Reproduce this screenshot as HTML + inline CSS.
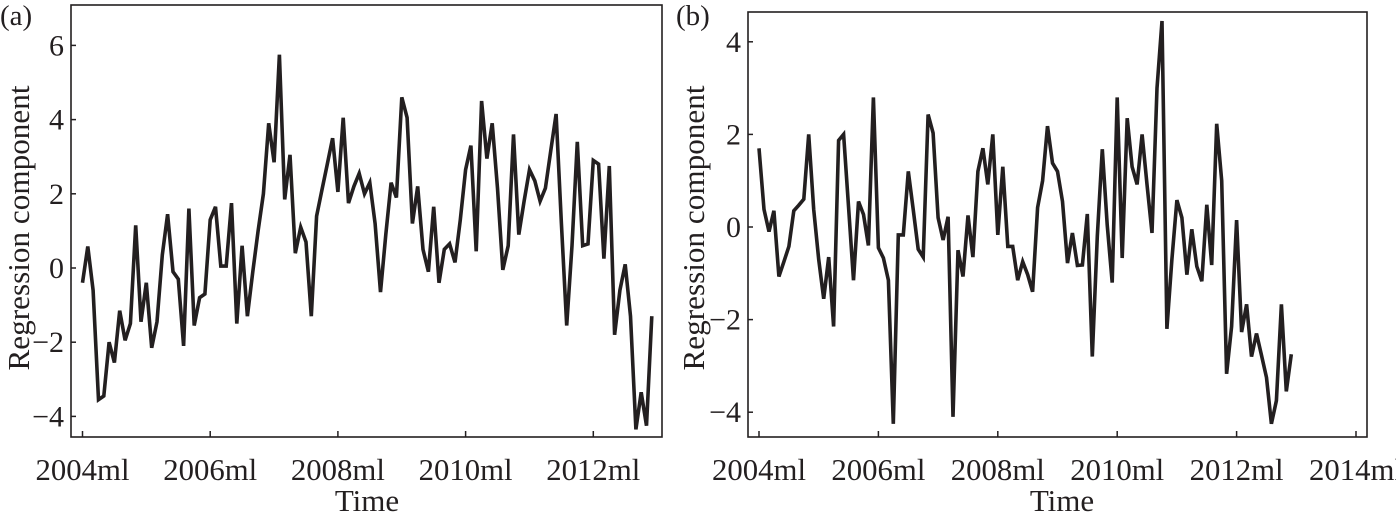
<!DOCTYPE html>
<html><head><meta charset="utf-8">
<style>
html,body{margin:0;padding:0;background:#fff;}
svg{display:block;}
text{font-family:"Liberation Serif","Times New Roman",serif;fill:#231f20;}
</style></head>
<body>
<svg id="fig" width="1396" height="516" viewBox="0 0 1396 516"></svg>
<script>
// Panel (a) data: monthly 2004m1..2012m12
const seriesA = [-0.4,0.58,-0.6,-3.55,-3.45,-2.0,-2.55,-1.15,-1.95,-1.5,1.15,-1.45,-0.4,-2.15,-1.45,0.35,1.45,-0.1,-0.3,-2.1,1.6,-1.55,-0.8,-0.7,1.3,1.65,0.05,0.05,1.75,-1.5,0.6,-1.3,-0.1,1.0,2.0,3.9,2.85,5.75,1.85,3.05,0.4,1.1,0.7,-1.3,1.4,2.1,2.8,3.5,2.05,4.05,1.75,2.2,2.55,2.0,2.3,1.2,-0.65,0.9,2.3,1.9,4.6,4.05,1.2,2.2,0.5,-0.1,1.65,-0.4,0.5,0.65,0.15,1.3,2.65,3.3,0.45,4.5,2.95,3.9,2.15,-0.05,0.6,3.6,0.9,1.8,2.65,2.35,1.8,2.15,3.15,4.15,1.2,-1.55,0.6,3.4,0.6,0.65,2.9,2.8,0.25,2.75,-1.8,-0.6,0.1,-1.3,-4.35,-3.35,-4.25,-1.3];
// Panel (b) data
const seriesB = [1.7,0.38,-0.1,0.35,-1.07,-0.75,-0.42,0.35,0.47,0.6,2.0,0.38,-0.7,-1.55,-0.65,-2.15,1.87,2.0,0.45,-1.15,0.55,0.27,-0.4,2.8,-0.45,-0.67,-1.15,-4.25,-0.17,-0.17,1.2,0.38,-0.48,-0.65,2.43,2.03,0.2,-0.28,0.22,-4.1,-0.5,-1.07,0.25,-0.65,1.2,1.7,0.92,2.0,-0.17,1.3,-0.42,-0.42,-1.15,-0.75,-1.03,-1.4,0.42,1.0,2.18,1.38,1.2,0.55,-0.78,-0.13,-0.83,-0.82,0.28,-2.8,-0.2,1.68,0.05,-1.2,2.8,-0.67,2.35,1.3,0.92,2.0,0.92,-0.13,3.0,4.45,-2.2,-0.7,0.58,0.2,-1.03,-0.05,-0.85,-1.17,0.48,-0.82,2.23,1.0,-3.17,-2.15,0.15,-2.27,-1.67,-2.8,-2.3,-2.77,-3.25,-4.25,-3.75,-1.67,-3.55,-2.75];
const startYear = 2004;
const yTicksA = [-4,-2,0,2,4,6];
const yTicksB = [-4,-2,0,2,4];
const xTicksA = [2004,2006,2008,2010,2012];
const xTicksB = [2004,2006,2008,2010,2012,2014];

const NS = "http://www.w3.org/2000/svg";
const svg = document.getElementById('fig');
function mk(tag, attrs, parent){
  const e = document.createElementNS(NS, tag);
  for (const k in attrs) e.setAttribute(k, attrs[k]);
  (parent||svg).appendChild(e);
  return e;
}
function panel(cfg){
  const g = mk('g', {});
  
  
  const xs = yr => cfg.x0 + (yr - 2004) * cfg.pxYear;
  const ys = v => cfg.y0 - v * cfg.pxUnit;
  const box = mk('rect', {x:cfg.L, y:cfg.T, width:cfg.R-cfg.L, height:cfg.B-cfg.T, fill:'none', stroke:'#231f20', 'stroke-width':1.6}, g);
  
  
  cfg.yTicks.forEach(v => {
    const y = ys(v);
    const t = mk('line', {x1:cfg.L, x2:cfg.L+5, y1:y, y2:y, stroke:'#231f20', 'stroke-width':1.5}, g);
    
    
    const l = mk('text', {x:cfg.L-7, y:y+10, 'font-size':30, 'text-anchor':'end'}, g);
    l.textContent = (v < 0 ? '\u2212' + Math.abs(v) : String(v));
    
    
  });
  cfg.xTicks.forEach(yr => {
    const x = xs(yr);
    const t = mk('line', {x1:x, x2:x, y1:cfg.B, y2:cfg.B-6, stroke:'#231f20', 'stroke-width':1.5}, g);
    
    
    const l = mk('text', {x:x, y:cfg.B+43, 'font-size':31, 'text-anchor':'middle', textLength:94, lengthAdjust:'spacingAndGlyphs'}, g);
    l.textContent = yr + 'ml';
    
    
  });
  const pts = cfg.data.map((v,i) => xs(startYear + i/12).toFixed(1) + ',' + ys(v).toFixed(1)).join(' ');
  const line = mk('polyline', {points:pts, fill:'none', stroke:'#231f20', 'stroke-width':3.6, 'stroke-linejoin':'miter', 'stroke-miterlimit':4}, g);
  
  
  const xt = mk('text', {x:cfg.timeX, y:511, 'font-size':31, 'text-anchor':'middle'}, g);
  xt.textContent = 'Time';
  
  
  const yt = mk('text', {x:0, y:0, 'font-size':31, 'text-anchor':'middle', textLength:285, lengthAdjust:'spacingAndGlyphs', transform:'translate(' + cfg.ytX + ',228) rotate(-90)'}, g);
  yt.textContent = 'Regression component';
  
  
  const pl = mk('text', {x:cfg.plX, y:25, 'font-size':29}, g);
  pl.textContent = cfg.label;
  
  
}
panel({name:'panel-a', data:seriesA, yTicks:yTicksA, xTicks:xTicksA, L:71, R:662, T:5, B:437,
  x0:82.5, pxYear:127.7/2, y0:268, pxUnit:37.1, timeX:367, ytX:29, plX:0, label:'(a)'});
panel({name:'panel-b', data:seriesB, yTicks:yTicksB, xTicks:xTicksB, L:748, R:1367, T:12, B:437,
  x0:759, pxYear:59.7, y0:227, pxUnit:46.3, timeX:1062, ytX:704, plX:676, label:'(b)'});
</script>
</body></html>
